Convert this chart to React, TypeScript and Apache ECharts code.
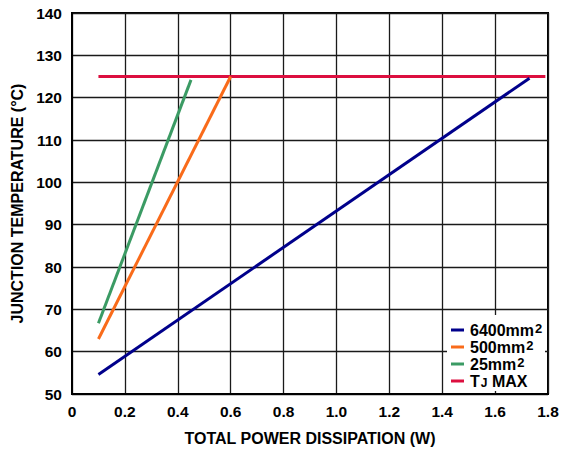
import React, { useEffect, useRef } from "react";
import * as echarts from "echarts";

const seriesNames = ["6400mm2", "500mm2", "25mm2", "TJ MAX"];
const seriesColors = ["#00008b", "#f96b1a", "#3b9b64", "#dc0f3f"];
const blue6400: [number, number][] = [[0.1, 54.6], [1.73, 124.6]];
const orange500: [number, number][] = [[0.1, 63], [0.6, 125]];
const green25: [number, number][] = [[0.1, 66.7], [0.45, 124.2]];
const tjMax: [number, number][] = [[0.1, 125], [1.79, 125]];
const seriesData = [blue6400, orange500, green25, tjMax];
const legendLabels: Record<string, string> = {
  "6400mm2": "{m|6400mm}{sup|2}",
  "500mm2": "{m|500mm}{sup|2}",
  "25mm2": "{m|25mm}{sup|2}",
  "TJ MAX": "{m|T}{sub|J}{m| MAX}",
};

const FONT = "'Liberation Sans', Arial, sans-serif";

export default function App() {
  const ref = useRef<HTMLDivElement>(null);
  useEffect(() => {
    if (!ref.current) return;
    const chart = echarts.init(ref.current, null, { renderer: "svg" });
    chart.setOption({
      animation: false,
      backgroundColor: "#fff",
      textStyle: { fontFamily: FONT, fontWeight: "bold", color: "#000" },
      grid: {
        left: 72,
        right: 14,
        top: 13,
        bottom: 57,
        show: true,
        borderColor: "#000",
        borderWidth: 2,
        backgroundColor: "transparent",
      },
      xAxis: {
        type: "value",
        min: 0,
        max: 1.8,
        interval: 0.2,
        name: "TOTAL POWER DISSIPATION (W)",
        nameLocation: "middle",
        nameGap: 36,
        nameTextStyle: { fontSize: 16, fontWeight: "bold", color: "#000", fontFamily: FONT },
        axisLine: { show: true, lineStyle: { color: "#000", width: 2 } },
        axisTick: { show: false },
        axisLabel: {
          fontSize: 15.5,
          fontWeight: "bold",
          color: "#000",
          fontFamily: FONT,
          margin: 9,
          formatter: (v: number) => (v === 0 ? "0" : v.toFixed(1)),
        },
        splitLine: { show: true, lineStyle: { color: "#1a1a1a", width: 1.3 } },
      },
      yAxis: {
        type: "value",
        min: 50,
        max: 140,
        interval: 10,
        name: "JUNCTION TEMPERATURE (°C)",
        nameLocation: "middle",
        nameGap: 46,
        nameTextStyle: { fontSize: 16, fontWeight: "bold", color: "#000", fontFamily: FONT },
        axisLine: { show: true, lineStyle: { color: "#000", width: 2 } },
        axisTick: { show: false },
        axisLabel: { fontSize: 15.5, fontWeight: "bold", color: "#000", fontFamily: FONT, margin: 10 },
        splitLine: { show: true, lineStyle: { color: "#1a1a1a", width: 1.3 } },
      },
      graphic: [
        {
          type: "rect",
          shape: { x: 447, y: 315, width: 98, height: 76 },
          style: { fill: "#fff" },
          z: 3,
        },
      ],
      legend: {
        orient: "vertical",
        left: 451,
        top: 322,
        itemWidth: 13,
        itemHeight: 3,
        itemGap: 1,
        padding: 0,
        icon: "rect",
        data: seriesNames,
        formatter: (name: string) => legendLabels[name],
        textStyle: {
          fontFamily: FONT,
          fontWeight: "bold",
          color: "#000",
          padding: [0, 0, 0, 1],
          rich: {
            m: { fontSize: 16, fontWeight: "bold", fontFamily: FONT, lineHeight: 16, color: "#000" },
            sup: { fontSize: 13, fontWeight: "bold", fontFamily: FONT, lineHeight: 12, verticalAlign: "top", color: "#000", padding: [0, 0, 0, 1] },
            sub: { fontSize: 12, fontWeight: "bold", fontFamily: FONT, lineHeight: 8, verticalAlign: "bottom", color: "#000", padding: [0, 0, 0, 1] },
          },
        },
        z: 5,
      },
      series: seriesNames.map((name, i) => ({
        name,
        type: "line",
        data: seriesData[i],
        showSymbol: false,
        symbol: "none",
        lineStyle: { color: seriesColors[i], width: 3 },
        itemStyle: { color: seriesColors[i] },
        z: i === 3 ? 1 : 2,
      })),
    });
    return () => chart.dispose();
  }, []);
  return (
    <div
      ref={ref}
      style={{ position: "absolute", left: 0, top: 0, width: 562, height: 451 }}
    />
  );
}
